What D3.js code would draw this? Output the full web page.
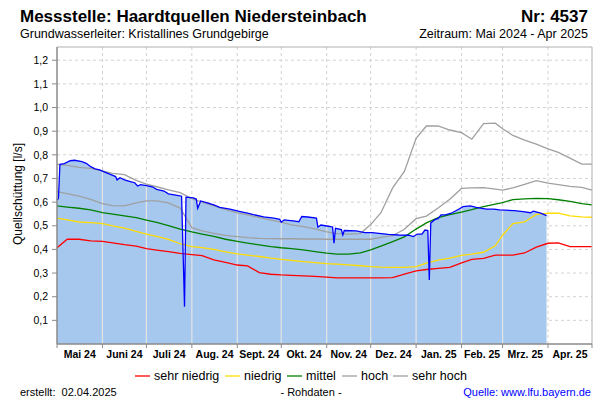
<!DOCTYPE html>
<html><head><meta charset="utf-8">
<script src="https://cdn.jsdelivr.net/npm/d3@7"></script>
<style>
body{margin:0;background:#fff}
text{font-family:"Liberation Sans",Arial,sans-serif;fill:#000}
</style>
</head><body>
<svg id="c" width="600" height="400"></svg>
<script>
// ---------- data ----------
const refDates = [
"2024-05-01","2024-05-08","2024-05-16","2024-05-24",
"2024-06-01","2024-06-08","2024-06-16","2024-06-24",
"2024-07-01","2024-07-08","2024-07-16","2024-07-24",
"2024-08-01","2024-08-08","2024-08-16","2024-08-24",
"2024-09-01","2024-09-08","2024-09-16","2024-09-24",
"2024-10-01","2024-10-08","2024-10-16","2024-10-24",
"2024-11-01","2024-11-08","2024-11-16","2024-11-24",
"2024-12-01","2024-12-08","2024-12-16","2024-12-24",
"2025-01-01","2025-01-08","2025-01-16","2025-01-24",
"2025-02-01","2025-02-08","2025-02-16","2025-02-24",
"2025-03-01","2025-03-08","2025-03-16","2025-03-24",
"2025-04-01","2025-04-08","2025-04-16","2025-04-24",
"2025-05-01"];
const sehrHoch = [0.760,0.755,0.747,0.743, 0.732,0.722,0.716,0.692, 0.676,0.665,0.652,0.640, 0.615,0.600,0.584,0.568, 0.555,0.546,0.535,0.524, 0.515,0.504,0.496,0.487, 0.474,0.467,0.465,0.467, 0.505,0.555,0.660,0.730, 0.870,0.922,0.922,0.905, 0.894,0.866,0.932,0.934, 0.910,0.882,0.862,0.845, 0.825,0.810,0.786,0.761, 0.761];
const hoch = [0.644,0.636,0.625,0.612, 0.594,0.585,0.584,0.597, 0.605,0.605,0.597,0.575, 0.492,0.478,0.468,0.459, 0.454,0.450,0.447,0.446, 0.445,0.445,0.444,0.444, 0.443,0.443,0.443,0.443, 0.443,0.451,0.458,0.485, 0.530,0.541,0.575,0.612, 0.658,0.660,0.661,0.655, 0.651,0.660,0.675,0.691, 0.680,0.674,0.667,0.662, 0.651];
const mittel = [0.584,0.579,0.574,0.567, 0.556,0.549,0.542,0.534, 0.524,0.514,0.501,0.486, 0.474,0.465,0.455,0.443, 0.434,0.427,0.419,0.412, 0.407,0.403,0.398,0.391, 0.384,0.380,0.380,0.385, 0.398,0.414,0.433,0.453, 0.486,0.512,0.534,0.547, 0.558,0.568,0.581,0.592, 0.598,0.611,0.614,0.616, 0.615,0.610,0.603,0.594, 0.588];
const niedrig = [0.532,0.525,0.516,0.513, 0.509,0.500,0.490,0.476, 0.465,0.455,0.442,0.424, 0.412,0.408,0.400,0.390, 0.381,0.376,0.370,0.363, 0.358,0.354,0.348,0.344, 0.340,0.338,0.335,0.331, 0.327,0.325,0.324,0.324, 0.327,0.342,0.355,0.363, 0.375,0.380,0.388,0.415, 0.460,0.509,0.516,0.548, 0.553,0.553,0.542,0.538, 0.536];
const sehrNiedrig = [0.407,0.443,0.443,0.436, 0.434,0.428,0.420,0.414, 0.403,0.397,0.391,0.383, 0.378,0.374,0.356,0.345, 0.334,0.330,0.302,0.295, 0.292,0.290,0.288,0.286, 0.283,0.280,0.280,0.280, 0.280,0.280,0.281,0.296, 0.309,0.315,0.320,0.324, 0.343,0.358,0.362,0.376, 0.376,0.376,0.385,0.410, 0.426,0.428,0.412,0.412, 0.412];

const measDates = [
"2024-05-01","2024-05-02","2024-05-03","2024-05-06","2024-05-10","2024-05-13","2024-05-18","2024-05-21","2024-05-24","2024-05-27","2024-05-30",
"2024-06-03","2024-06-06","2024-06-10","2024-06-11","2024-06-13","2024-06-16","2024-06-20","2024-06-23","2024-06-25","2024-06-27",
"2024-07-01","2024-07-05","2024-07-08","2024-07-13","2024-07-16","2024-07-21","2024-07-25","2024-07-27","2024-07-28",
"2024-08-02","2024-08-04","2024-08-05","2024-08-07","2024-08-11","2024-08-16","2024-08-20","2024-08-27",
"2024-09-03","2024-09-08","2024-09-12","2024-09-19","2024-09-26","2024-09-30",
"2024-10-01","2024-10-03","2024-10-09","2024-10-13","2024-10-15","2024-10-19","2024-10-25","2024-10-26","2024-10-28",
"2024-11-01","2024-11-05","2024-11-06","2024-11-07","2024-11-11","2024-11-12","2024-11-13","2024-11-21","2024-11-27",
"2024-12-02","2024-12-13","2024-12-20","2024-12-27","2024-12-30",
"2025-01-02","2025-01-05","2025-01-07","2025-01-09","2025-01-10","2025-01-11","2025-01-14","2025-01-16","2025-01-18","2025-01-21","2025-01-25","2025-01-30",
"2025-02-02","2025-02-07","2025-02-11","2025-02-18","2025-02-23","2025-02-27",
"2025-03-09","2025-03-15","2025-03-20","2025-03-22","2025-03-27","2025-03-31"];
const measValues = [
0.609,0.616,0.760,0.763,0.775,0.777,0.771,0.764,0.750,0.741,0.736,
0.726,0.718,0.708,0.694,0.703,0.694,0.687,0.682,0.668,0.674,
0.670,0.665,0.654,0.647,0.635,0.630,0.625,0.158,0.621,
0.618,0.613,0.574,0.605,0.598,0.588,0.578,0.570,
0.560,0.553,0.547,0.538,0.532,0.527,
0.515,0.525,0.521,0.517,0.539,0.537,0.532,0.494,0.503,
0.499,0.495,0.426,0.489,0.484,0.461,0.480,0.478,0.471,
0.471,0.464,0.461,0.460,0.454,
0.465,0.465,0.482,0.480,0.271,0.512,0.527,0.530,0.546,0.546,0.553,0.570,
0.581,0.584,0.578,0.570,0.570,0.567,
0.564,0.560,0.555,0.562,0.553,0.543];

const monthLabels = ["Mai 24","Juni 24","Juli 24","Aug. 24","Sept. 24","Okt. 24","Nov. 24","Dez. 24","Jan. 25","Feb. 25","Mrz. 25","Apr. 25"];
const yTicks = [0.1,0.2,0.3,0.4,0.5,0.6,0.7,0.8,0.9,1.0,1.1,1.2];
const legendNames = ["sehr niedrig","niedrig","mittel","hoch","sehr hoch"];

// ---------- layout ----------
const M = {l:57, r:592, t:47, b:344};
const parse = d3.utcParse("%Y-%m-%d");
const x = d3.scaleUtc().domain([parse("2024-05-01"), parse("2025-05-01")]).range([M.l, M.r]);
const y = d3.scaleLinear().domain([0, 1.256]).range([M.b, M.t]);
const svg = d3.select("#c");
const fmt = d => d3.format(".1f")(d).replace(".", ",");

const months = d3.utcMonth.range(parse("2024-05-01"), parse("2025-05-02"));
const inner = months.slice(1, -1);

// dashed grid
svg.append("g").selectAll("line").data(yTicks).join("line")
  .attr("x1", M.l).attr("x2", M.r).attr("y1", d => y(d)).attr("y2", d => y(d))
  .attr("stroke", "#d2d2d2").attr("stroke-dasharray", "3,3");
svg.append("g").selectAll("line").data(inner).join("line")
  .attr("x1", d => x(d)).attr("x2", d => x(d)).attr("y1", M.t).attr("y2", M.b)
  .attr("stroke", "#d2d2d2").attr("stroke-dasharray", "3,3");

// measured area
const meas = measDates.map((d, i) => ({date: parse(d), v: measValues[i]}));
const area = d3.area().x(d => x(d.date)).y0(y(0)).y1(d => y(d.v));
svg.append("path").datum(meas).attr("d", area).attr("fill", "#a6c8ef");
svg.append("clipPath").attr("id", "fc").append("path").datum(meas).attr("d", area);
svg.append("g").attr("clip-path", "url(#fc)").selectAll("line").data(inner).join("line")
  .attr("x1", d => x(d)).attr("x2", d => x(d)).attr("y1", M.t).attr("y2", M.b)
  .attr("stroke", "#e4e4e4").attr("stroke-width", 1.2);

// reference lines
const line = d3.line().x(d => x(d.date)).y(d => y(d.v));
const refSeries = [
  {vals: sehrNiedrig, color: "#ff0000"},
  {vals: niedrig, color: "#ffdd00"},
  {vals: mittel, color: "#008000"},
  {vals: hoch, color: "#a0a0a0"},
  {vals: sehrHoch, color: "#a0a0a0"}
];
refSeries.slice().reverse().forEach(s => {
  svg.append("path")
    .datum(refDates.map((d, i) => ({date: parse(d), v: s.vals[i]})))
    .attr("d", line).attr("fill", "none").attr("stroke", s.color).attr("stroke-width", 1.3);
});

// measured line
svg.append("path").datum(meas).attr("d", line).attr("fill", "none")
  .attr("stroke", "#0000ff").attr("stroke-width", 1.3);

// frame
svg.append("line").attr("x1", M.l).attr("x2", M.r).attr("y1", M.t).attr("y2", M.t).attr("stroke", "#b0b0b0");
svg.append("line").attr("x1", M.r).attr("x2", M.r).attr("y1", M.t).attr("y2", M.b).attr("stroke", "#b0b0b0");
svg.append("line").attr("x1", M.l).attr("x2", M.l).attr("y1", M.t).attr("y2", M.b).attr("stroke", "#8a8a8a").attr("stroke-width", 1.5);
svg.append("line").attr("x1", M.l).attr("x2", M.r).attr("y1", M.b).attr("y2", M.b).attr("stroke", "#8a8a8a").attr("stroke-width", 1.5);

// y ticks
const yt = svg.append("g").selectAll("g").data(yTicks).join("g");
yt.append("line").attr("x1", M.l - 5).attr("x2", M.l).attr("y1", d => y(d)).attr("y2", d => y(d)).attr("stroke", "#8a8a8a");
yt.append("text").attr("x", M.l - 9).attr("y", d => y(d)).attr("dy", "0.35em")
  .attr("text-anchor", "end").attr("font-size", "10.5px").text(fmt);

// x ticks
svg.append("g").selectAll("line").data(months).join("line")
  .attr("x1", d => x(d)).attr("x2", d => x(d)).attr("y1", M.b).attr("y2", M.b + 4).attr("stroke", "#8a8a8a");
svg.append("g").selectAll("text").data(months.slice(0, -1)).join("text")
  .attr("x", (d, i) => (x(d) + x(months[i + 1])) / 2).attr("y", 358)
  .attr("text-anchor", "middle").attr("font-size", "10.5px").attr("font-weight", "bold")
  .text((d, i) => monthLabels[i]);

// y title
svg.append("text").attr("transform", "translate(22,194) rotate(-90)")
  .attr("text-anchor", "middle").attr("font-size", "12px").text("Quellschüttung [l/s]");

// titles
svg.append("text").attr("x", 20).attr("y", 22).attr("font-size", "17px").attr("font-weight", "bold")
  .text("Messstelle: Haardtquellen Niedersteinbach");
svg.append("text").attr("x", 588).attr("y", 22).attr("font-size", "17px").attr("font-weight", "bold")
  .attr("text-anchor", "end").text("Nr: 4537");
svg.append("text").attr("x", 20).attr("y", 38).attr("font-size", "12.5px")
  .text("Grundwasserleiter: Kristallines Grundgebirge");
svg.append("text").attr("x", 588).attr("y", 38).attr("font-size", "12.5px").attr("text-anchor", "end")
  .text("Zeitraum: Mai 2024 - Apr 2025");

// legend
const lgX = [135, 225, 287, 342, 393];
const lg = svg.append("g").selectAll("g").data(legendNames).join("g")
  .attr("transform", (d, i) => `translate(${lgX[i]},376)`);
lg.append("line").attr("x1", 0).attr("x2", 15).attr("stroke", (d, i) => refSeries[i].color).attr("stroke-width", 1.3);
lg.append("text").attr("x", 19).attr("dy", "0.35em").attr("font-size", "12.5px").text(d => d);

// footer
svg.append("text").attr("x", 20).attr("y", 396).attr("font-size", "11px").text("erstellt:  02.04.2025").attr("xml:space", "preserve");
svg.append("text").attr("x", 311).attr("y", 396).attr("font-size", "11px").attr("text-anchor", "middle").text("- Rohdaten -");
svg.append("text").attr("x", 591).attr("y", 396).attr("font-size", "11px").attr("text-anchor", "end")
  .style("fill", "#0000ff").text("Quelle: www.lfu.bayern.de");
</script>
</body></html>
